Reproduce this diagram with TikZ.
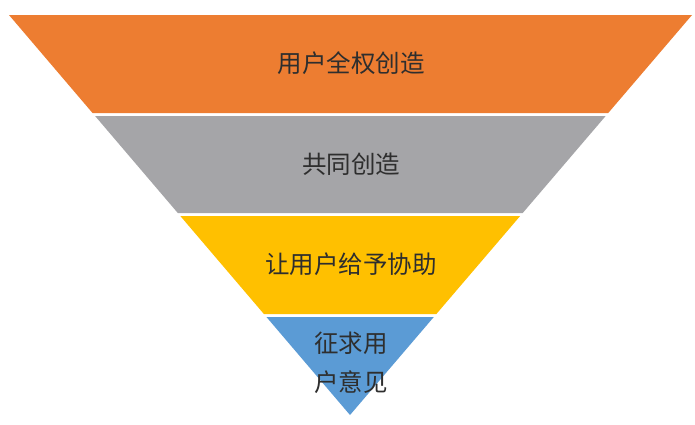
\documentclass[tikz,border=0pt]{standalone}
\usepackage{fontspec}
\newfontfamily\cjk{Noto Sans CJK SC}
\usetikzlibrary{calc}
\definecolor{bandorange}{HTML}{ED7D31}
\definecolor{bandgray}{HTML}{A5A5A8}
\definecolor{bandyellow}{HTML}{FFC000}
\definecolor{bandblue}{HTML}{5B9BD5}
\definecolor{labeltext}{HTML}{2E2E2E}
\tikzset{
  band/.style={draw=none},
  lbl/.style={text=labeltext, font=\cjk\fontsize{24.5}{29}\selectfont, inner sep=0pt, anchor=center}
}
\begin{document}
\begin{tikzpicture}[x=1pt,y=-1pt]
\useasboundingbox[fill=white] (0,0) rectangle (695,424);
\coordinate (A) at (9,15);
\coordinate (B) at (692,15);
\coordinate (C) at (350,415);
% orange band
\fill[bandorange, band] (A) -- (B) -- ($(B)!0.245!(C)$) -- ($(A)!0.245!(C)$) -- cycle;
% gray band
\fill[bandgray, band] ($(A)!0.2525!(C)$) -- ($(B)!0.2525!(C)$) -- ($(B)!0.495!(C)$) -- ($(A)!0.495!(C)$) -- cycle;
% yellow band
\fill[bandyellow, band] ($(A)!0.5025!(C)$) -- ($(B)!0.5025!(C)$) -- ($(B)!0.7475!(C)$) -- ($(A)!0.7475!(C)$) -- cycle;
% blue band
\fill[bandblue, band] ($(A)!0.755!(C)$) -- ($(B)!0.755!(C)$) -- (C) -- cycle;
% labels
\node[lbl] (t1) at (351,63) {用户全权创造};
\node[lbl] (t2) at (351,164) {共同创造};
\node[lbl] (t3) at (351,264) {让用户给予协助};
\node[lbl] (t4a) at (351,343) {征求用};
\node[lbl] (t4b) at (351,382) {户意见};
\end{tikzpicture}
\end{document}
